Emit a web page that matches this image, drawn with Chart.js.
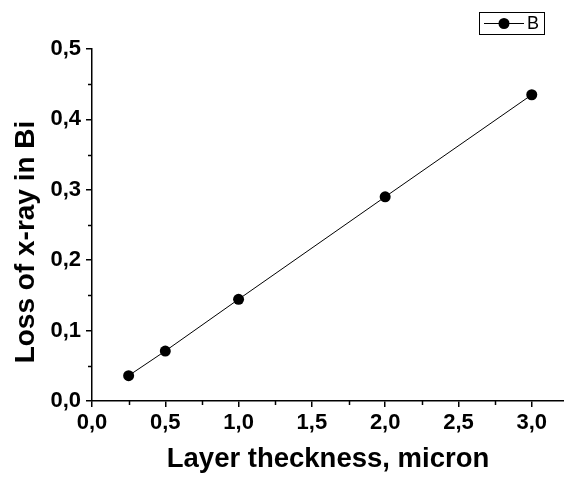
<!DOCTYPE html>
<html>
<head>
<meta charset="utf-8">
<script src="https://cdn.jsdelivr.net/npm/chart.js@4"></script>
<style>
  html, body { margin: 0; padding: 0; background: #fff; }
  #wrap { width: 564px; height: 479px; position: relative; }
</style>
</head>
<body>
<div id="wrap"><canvas id="c" width="564" height="479"></canvas></div>
<script>
const seriesLabel = 'B';
const thickness = [0.25, 0.5, 1.0, 2.0, 3.0];
const loss = [0.036, 0.071, 0.1445, 0.290, 0.435];
const xTicks = [0, 0.5, 1.0, 1.5, 2.0, 2.5, 3.0];
const xMinorTicks = [0.25, 0.75, 1.25, 1.75, 2.25, 2.75, 3.25];
const yTicks = [0, 0.1, 0.2, 0.3, 0.4, 0.5];
const yMinorTicks = [0.05, 0.15, 0.25, 0.35, 0.45];
const xTitle = 'Layer theckness, micron';
const yTitle = 'Loss of x-ray in Bi';

const FONT = "'Liberation Sans', Arial, sans-serif";
const fmt = v => Number(v).toFixed(1).replace('.', ',');

const extras = {
  id: 'extras',
  afterDraw(chart) {
    const ctx = chart.ctx;
    const xs = chart.scales.x, ys = chart.scales.y;
    const ca = chart.chartArea;
    ctx.save();
    ctx.strokeStyle = '#000';
    ctx.lineWidth = 1.5;
    // minor ticks
    xMinorTicks.forEach(v => {
      if (v > xs.max) return;
      const px = Math.round(xs.getPixelForValue(v)) + 0.5;
      ctx.beginPath(); ctx.moveTo(px, ca.bottom); ctx.lineTo(px, ca.bottom + 4); ctx.stroke();
    });
    yMinorTicks.forEach(v => {
      const py = Math.round(ys.getPixelForValue(v)) + 0.5;
      ctx.beginPath(); ctx.moveTo(ca.left, py); ctx.lineTo(ca.left - 4, py); ctx.stroke();
    });
    // y title
    ctx.fillStyle = '#000';
    ctx.font = 'bold 28px ' + FONT;
    ctx.textAlign = 'center';
    ctx.textBaseline = 'alphabetic';
    ctx.translate(34, 242);
    ctx.rotate(-Math.PI / 2);
    ctx.fillText(yTitle, 0, 0);
    ctx.restore();

    // legend
    ctx.save();
    const ds = chart.data.datasets[0];
    ctx.strokeStyle = '#000';
    ctx.lineWidth = 1;
    ctx.strokeRect(479.5, 12.5, 65, 22);
    ctx.beginPath(); ctx.moveTo(484, 23.5); ctx.lineTo(524, 23.5); ctx.stroke();
    ctx.fillStyle = ds.pointBackgroundColor;
    ctx.beginPath(); ctx.arc(504, 23.5, 5.5, 0, Math.PI * 2); ctx.fill();
    ctx.fillStyle = '#000';
    ctx.font = '18px ' + FONT;
    ctx.textAlign = 'left';
    ctx.textBaseline = 'middle';
    ctx.fillText(ds.label, 527, 24.5);
    ctx.restore();
  }
};

new Chart(document.getElementById('c'), {
  type: 'line',
  data: {
    datasets: [{
      label: seriesLabel,
      data: thickness.map((x, i) => ({ x: x, y: loss[i] })),
      borderColor: '#000',
      borderWidth: 1,
      backgroundColor: '#000',
      pointBackgroundColor: '#000',
      pointBorderColor: '#000',
      pointRadius: 5.5,
      pointBorderWidth: 0,
      tension: 0
    }]
  },
  options: {
    responsive: false,
    animation: false,
    devicePixelRatio: 1,
    layout: { autoPadding: false, padding: { top: 49, left: 0, right: 0, bottom: 0 } },
    plugins: { legend: { display: false }, tooltip: { enabled: false } },
    scales: {
      x: {
        type: 'linear',
        min: 0,
        max: 3.22,
        afterBuildTicks: s => { s.ticks = xTicks.map(v => ({ value: v })); },
        afterFit: s => { s.height = 78; s.paddingLeft = 0; s.paddingRight = 0; },
        ticks: {
          callback: v => fmt(v),
          color: '#000',
          font: { family: FONT, size: 22, weight: 'bold' },
          padding: 3,
          maxRotation: 0,
          autoSkip: false
        },
        grid: { drawOnChartArea: false, tickLength: 6, color: '#000', lineWidth: 1.5 },
        border: { display: true, color: '#000', width: 1.5 },
        title: {
          display: true,
          text: xTitle,
          color: '#000',
          font: { family: FONT, size: 27.5, weight: 'bold' },
          padding: { top: 0, bottom: 3 }
        }
      },
      y: {
        type: 'linear',
        min: 0,
        max: 0.5,
        afterBuildTicks: s => { s.ticks = yTicks.map(v => ({ value: v })); },
        afterFit: s => { s.width = 92; s.paddingTop = 0; s.paddingBottom = 0; },
        ticks: {
          callback: v => fmt(v),
          color: '#000',
          font: { family: FONT, size: 22, weight: 'bold' },
          padding: 5,
          autoSkip: false
        },
        grid: { drawOnChartArea: false, tickLength: 6, color: '#000', lineWidth: 1.5 },
        border: { display: true, color: '#000', width: 1.5 }
      }
    }
  },
  plugins: [extras]
});
</script>
</body>
</html>
